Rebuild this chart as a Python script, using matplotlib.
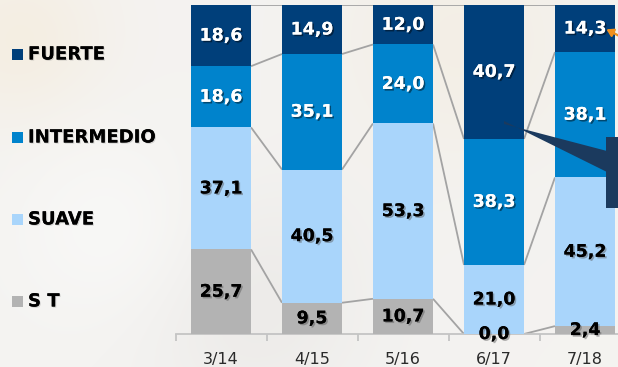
import numpy as np
import matplotlib
matplotlib.use("Agg")
import matplotlib.pyplot as plt
import matplotlib.patheffects as pe
from matplotlib.patches import Rectangle, Polygon, FancyArrowPatch

# Data: share (%) per category, stacked bottom -> top
periods = ["3/14", "4/15", "5/16", "6/17", "7/18"]
st = [25.7, 9.5, 10.7, 0.0, 2.4]
suave = [37.1, 40.5, 53.3, 21.0, 45.2]
intermedio = [18.6, 35.1, 24.0, 38.3, 38.1]
fuerte = [18.6, 14.9, 12.0, 40.7, 14.3]

series_names = ["S T", "SUAVE", "INTERMEDIO", "FUERTE"]
series_vals = [st, suave, intermedio, fuerte]
colors = ["#b3b3b3", "#a9d5fb", "#0083cc", "#003f7a"]
text_colors = ["#000000", "#000000", "#ffffff", "#ffffff"]

W, H = 618, 367
fig = plt.figure(figsize=(W / 100, H / 100), dpi=100)

# soft light backdrop
bg = fig.add_axes([0, 0, 1, 1], zorder=-10)
yy, xx = np.mgrid[0:H, 0:W]
base = np.ones((H, W, 3)) * np.array([0.957, 0.953, 0.945])
def blob(cx, cy, r, col, a):
    g = np.exp(-(((xx - cx) ** 2 + (yy - cy) ** 2) / (2 * r ** 2)))[..., None]
    return g * a * (np.array(col) - base)
base = base + blob(20, 40, 60, [0.96, 0.92, 0.85], 0.6)
base = base + blob(250, 300, 80, [0.90, 0.89, 0.88], 0.5)
base = base + blob(460, 40, 90, [0.95, 0.92, 0.86], 0.5)
base = base + blob(110, 230, 70, [0.985, 0.985, 0.98], 0.6)
bg.imshow(np.clip(base, 0, 1), aspect="auto", extent=[0, W, H, 0])
bg.set_axis_off()

# main axes: x from -0.5, 91 px per category; y 0..100 over px 334..5
px_per = 91.0
left_px = 221 - 0.5 * px_per
ax = fig.add_axes([left_px / W, (H - 334) / H, (W - left_px) / W, (334 - 5) / H])
ax.set_facecolor("none")
x = np.arange(len(periods))
width = 0.66

bottoms = np.zeros(len(periods))
boundaries = [bottoms.copy()]
for vals, col in zip(series_vals, colors):
    ax.bar(x, vals, width=width, bottom=bottoms, color=col, edgecolor="none", zorder=3)
    bottoms = bottoms + np.array(vals)
    boundaries.append(bottoms.copy())

# connector lines between adjacent bars at each segment boundary
for b in boundaries[1:]:
    for i in range(len(periods) - 1):
        ax.plot([x[i] + width / 2, x[i + 1] - width / 2], [b[i], b[i + 1]],
                color="#a3a3a3", lw=1.3, zorder=2, solid_capstyle="butt")

# value labels
bottoms = np.zeros(len(periods))
for vals, tc in zip(series_vals, text_colors):
    for i, v in enumerate(vals):
        shadow = "#000000" if tc == "#ffffff" else "#555555"
        ax.text(x[i], bottoms[i] + v / 2, f"{v:.1f}".replace(".", ","),
                ha="center", va="center", fontsize=12.5, fontweight="bold",
                color=tc, zorder=6,
                path_effects=[pe.withSimplePatchShadow(offset=(1.2, -1.2),
                                                       shadow_rgbFace=shadow, alpha=0.45),
                              pe.Normal()])
    bottoms = bottoms + np.array(vals)

for s in ["left", "top", "right"]:
    ax.spines[s].set_visible(False)
ax.spines["bottom"].set_color("#c4c4c4")
ax.spines["bottom"].set_linewidth(1.3)
ax.set_yticks([])
ax.set_xticks(np.arange(-0.5, len(periods), 1.0), minor=False)
ax.set_xticklabels([])
ax.tick_params(axis="x", which="major", length=5, color="#c4c4c4", width=1.3)
ax.set_xticks(x, minor=True)
ax.set_xticklabels(periods, minor=True)
ax.tick_params(axis="x", which="minor", length=0, pad=13, labelsize=11.5, labelcolor="#2a2a2a")
ax.set_xlim(-0.5, -0.5 + (W - left_px) / px_per)
ax.set_ylim(0, 100)

# legend
for name, col, ypx in zip(["FUERTE", "INTERMEDIO", "SUAVE", "S T"],
                          [colors[3], colors[2], colors[1], colors[0]],
                          [54.5, 137.5, 219.5, 301.5]):
    fig.patches.append(Rectangle((12 / W, 1 - (ypx + 5.5) / H), 11 / W, 11 / H,
                                 transform=fig.transFigure, facecolor=col,
                                 edgecolor="none", zorder=5))
    fig.text(28 / W, 1 - ypx / H, name, ha="left", va="center", fontsize=13,
             fontweight="bold", color="#000000",
             path_effects=[pe.withSimplePatchShadow(offset=(0.8, -0.8), shadow_rgbFace="#888888", alpha=0.3),
                           pe.Normal()])

# callout pointer and box at the right edge
def fpt(px, py):
    return (px / W, 1 - py / H)

callout = "#1b3a5e"
fig.patches.append(Polygon([fpt(504, 121), fpt(504, 124), fpt(607, 151), fpt(607, 172)], closed=True,
                           transform=fig.transFigure, facecolor=callout,
                           edgecolor="none", zorder=8))
fig.patches.append(Rectangle(fpt(606, 208), 20 / W, 71 / H, transform=fig.transFigure,
                             facecolor=callout, edgecolor="none", zorder=8))

# orange arrow pointing at the last top label
fig.add_artist(FancyArrowPatch(
    fpt(625, 39), fpt(604, 28), transform=fig.transFigure,
    arrowstyle="-|>,head_length=4,head_width=2.5", color="#f0901e", lw=1.6, zorder=9))

fig.savefig("out.png", dpi=100)
